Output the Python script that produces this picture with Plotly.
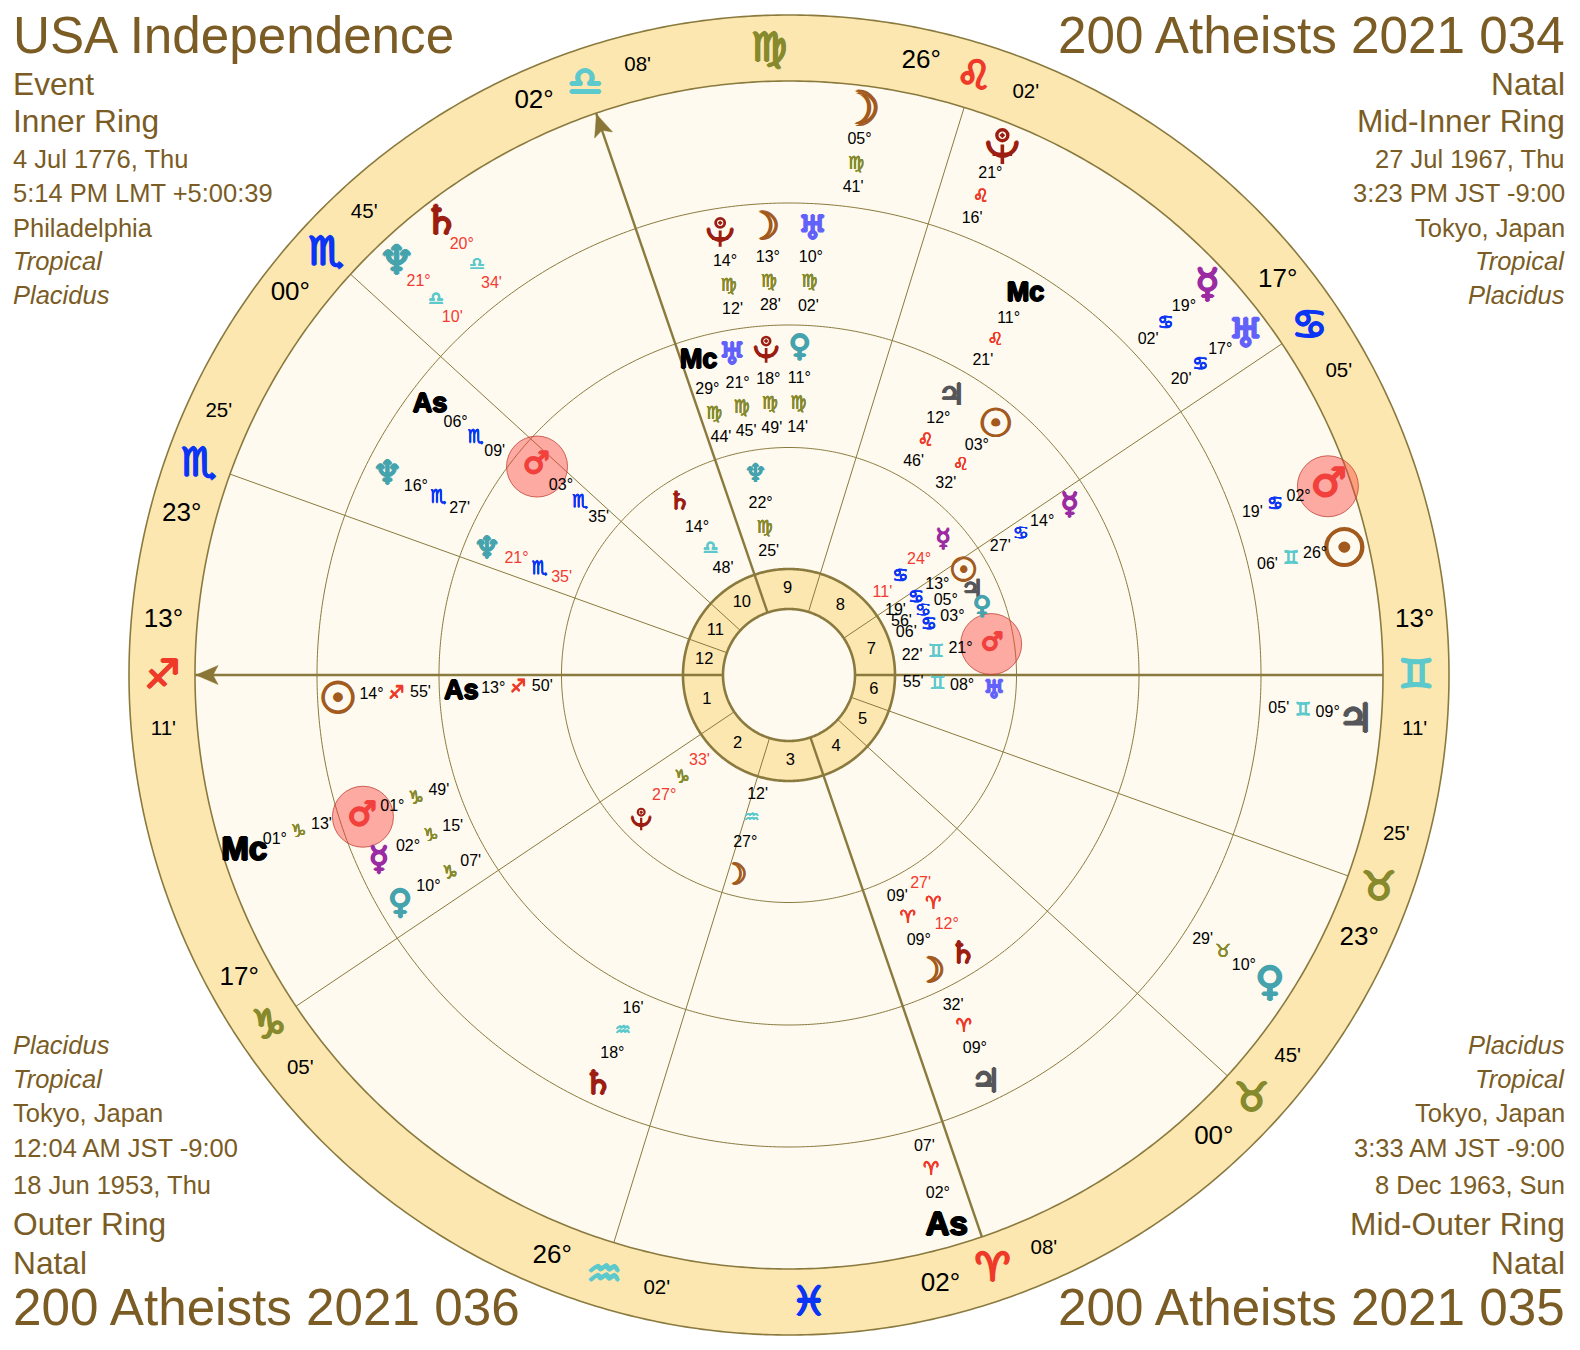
import math
import plotly.graph_objects as go

# ---------- chart data ----------
SIGNS = ["♈", "♉", "♊", "♋", "♌", "♍", "♎", "♏", "♐", "♑", "♒", "♓"]

cusp_signs = ["♐", "♑", "♒", "♈", "♉", "♉", "♊", "♋", "♌", "♎", "♏", "♏"]
cusp_degrees = [13, 17, 26, 2, 0, 23, 13, 17, 26, 2, 0, 23]
cusp_minutes = [11, 5, 2, 8, 45, 25, 11, 5, 2, 8, 45, 25]
intercepted_signs = ["♍", "♓"]
house_numbers = list(range(1, 13))

inner_bodies = ["♆", "♄", "♇", "☽", "♂", "♅", "☉", "♃", "♀", "☿"]
inner_signs = ["♍", "♎", "♑", "♒", "♊", "♊", "♋", "♋", "♋", "♋"]
inner_degrees = [22, 14, 27, 27, 21, 8, 13, 5, 3, 24]
inner_minutes = [25, 48, 33, 12, 22, 55, 19, 56, 6, 11]
inner_retro = [0, 0, 1, 0, 0, 0, 0, 0, 0, 1]
inner_label_angles = [99.4, 122, 224, 255.4, 8.7, -3.6, 31.2, 25.4, 19.6, 41.4]

midinner_bodies = ["Mc", "♅", "♇", "♀", "♃", "☉", "☿", "♂", "♆", "As", "♄", "☽"]
midinner_signs = ["♍", "♍", "♍", "♍", "♌", "♌", "♋", "♏", "♏", "♐", "♈", "♈"]
midinner_degrees = [29, 21, 18, 11, 12, 3, 14, 3, 21, 13, 12, 9]
midinner_minutes = [44, 45, 49, 14, 46, 32, 27, 35, 35, 50, 27, 9]
midinner_retro = [0, 0, 0, 0, 0, 0, 0, 0, 1, 0, 1, 0]
midinner_label_angles = [106, 100, 94, 88, 59.7, 50.6, 31.2, 140.4, 157, 182.7, -57.8, -64]

midouter_bodies = ["♇", "☽", "♅", "Mc", "♃", "♄", "☉", "♂", "☿", "♀", "♆", "As"]
midouter_signs = ["♍", "♍", "♍", "♌", "♈", "♒", "♐", "♑", "♑", "♑", "♏", "♏"]
midouter_degrees = [14, 13, 10, 11, 9, 18, 14, 1, 2, 10, 16, 6]
midouter_minutes = [12, 28, 2, 21, 32, 16, 55, 49, 15, 7, 27, 9]
midouter_retro = [0] * 12
midouter_label_angles = [98.8, 92.9, 87, 58.3, -63.6, 245, 182.8, 198.4, 204.3, 210.4, 153.2, 142.9]

outer_bodies = ["☽", "♇", "☿", "♅", "♂", "☉", "♃", "♀", "As", "Mc", "♄", "♆"]
outer_signs = ["♍", "♌", "♋", "♋", "♋", "♊", "♊", "♉", "♈", "♑", "♎", "♎"]
outer_degrees = [5, 21, 19, 17, 2, 26, 9, 10, 2, 1, 20, 21]
outer_minutes = [41, 16, 2, 20, 19, 6, 5, 29, 7, 13, 34, 10]
outer_retro = [0, 0, 0, 0, 0, 0, 0, 0, 0, 0, 1, 1]
outer_label_angles = [82.5, 68.1, 43, 37, 19.3, 13, -4, -32.6, -74, 197.8, 127.3, 133.3]

top_left_text = ["USA Independence", "Event", "Inner Ring", "4 Jul 1776, Thu",
                 "5:14 PM LMT +5:00:39", "Philadelphia", "<i>Tropical</i>", "<i>Placidus</i>"]
top_right_text = ["200 Atheists 2021 034", "Natal", "Mid-Inner Ring", "27 Jul 1967, Thu",
                  "3:23 PM JST -9:00", "Tokyo, Japan", "<i>Tropical</i>", "<i>Placidus</i>"]
bottom_left_text = ["<i>Placidus</i>", "<i>Tropical</i>", "Tokyo, Japan", "12:04 AM JST -9:00",
                    "18 Jun 1953, Thu", "Outer Ring", "Natal", "200 Atheists 2021 036"]
bottom_right_text = ["<i>Placidus</i>", "<i>Tropical</i>", "Tokyo, Japan", "3:33 AM JST -9:00",
                     "8 Dec 1963, Sun", "Mid-Outer Ring", "Natal", "200 Atheists 2021 035"]

# ---------- styling and geometry ----------
W, H = 1580, 1350
CX, CY, RMAX = 789, 675, 670
R_HOLE, R_HUB = 66, 106
RINGS = [227.5, 350, 472, 594]
R_OUT = 660
BROWN = "#7a5c24"
LINE = "#8a7a3e"
CREAM = "#fefaef"
BAND = "#fce7b0"
TEXT_FONT = "Liberation Sans"
GLYPH_FONT = "DejaVu Sans"
SIGN_COLOR = {"♈": "#ef3a2a", "♌": "#ef3a2a", "♐": "#ef3a2a",
              "♉": "#868a2c", "♍": "#868a2c", "♑": "#868a2c",
              "♊": "#5cc9cd", "♎": "#5cc9cd", "♒": "#5cc9cd",
              "♋": "#0a35f5", "♏": "#0a35f5", "♓": "#0a35f5"}
BODY_COLOR = {"☉": "#a25a1e", "☽": "#a25a1e", "☿": "#9b2ba3", "♀": "#45a3ad",
              "♂": "#f2403c", "♃": "#55565a", "♄": "#9c1e12", "♅": "#6262fb",
              "♆": "#45a3ad", "♇": "#9c1e12", "As": "#000000", "Mc": "#000000"}
# glyph size factor and pixel nudge (right, down) at the largest ring size
BODY_SCALE = {"☉": 1.3, "☽": 1.15}
BODY_NUDGE = {"☉": (-2, 7), "☽": (-4, 5), "☿": (0, 2), "♀": (-1, 2), "♂": (0, 0), "♃": (-4, 7),
              "♄": (-1, 4), "♅": (0, 6), "♆": (0, 5), "As": (0, 2), "Mc": (0, 2)}


def lon(sign, deg, minute):
    return SIGNS.index(sign) * 30 + deg + minute / 60


ASC = lon(cusp_signs[0], cusp_degrees[0], cusp_minutes[0])


def screen_angle(longitude):
    return (180 + longitude - ASC) % 360


def nudged(r, theta, dx, dy):
    x = r * math.cos(math.radians(theta)) + dx
    y = r * math.sin(math.radians(theta)) - dy
    return math.hypot(x, y), math.degrees(math.atan2(y, x))


def heavy(color, w):
    return f"{w}px 0 {color}, -{w}px 0 {color}, 0 {w}px {color}, 0 -{w}px {color}"


cusp_angles = [screen_angle(lon(s, d, m)) for s, d, m in zip(cusp_signs, cusp_degrees, cusp_minutes)]

fig = go.Figure()


def band(base, thickness, color):
    fig.add_trace(go.Barpolar(r=[thickness], base=[base], theta=[0], width=[360],
                              marker=dict(color=color, line=dict(width=0)), hoverinfo="skip"))


def circle(radius, width):
    thetas = [i * 0.5 for i in range(721)]
    fig.add_trace(go.Scatterpolar(r=[radius] * 721, theta=thetas, mode="lines",
                                  line=dict(color=LINE, width=width), hoverinfo="skip"))


def texts(r, theta, text, size, color, family, weight=0):
    font = dict(size=size, color=color, family=family)
    if weight:
        colors = color if isinstance(color, list) else [color] * len(text)
        font["shadow"] = [heavy(c, weight) for c in colors]
    fig.add_trace(go.Scatterpolar(r=r, theta=theta, text=text, mode="text", textposition="middle center",
                                  textfont=font, cliponaxis=False, hoverinfo="skip"))


band(0, R_HOLE, CREAM)
band(R_HOLE, R_HUB - R_HOLE, BAND)
band(R_HUB, RINGS[-1] - R_HUB, CREAM)
band(RINGS[-1], R_OUT - RINGS[-1], BAND)

# house cusps
for i, ang in enumerate(cusp_angles):
    fig.add_trace(go.Scatterpolar(r=[R_HOLE, RINGS[-1]], theta=[ang, ang], mode="lines",
                                  line=dict(color=LINE, width=2.4 if i % 3 == 0 else 1), hoverinfo="skip"))

# circles
for radius, width in [(R_HOLE, 2.6), (R_HUB, 2.6), (RINGS[0], 1), (RINGS[1], 1),
                      (RINGS[2], 1), (RINGS[3], 1.6), (R_OUT, 1.6)]:
    circle(radius, width)

# arrowheads on Ascendant and Midheaven
for idx in (0, 9):
    ang = cusp_angles[idx]
    tip = RINGS[-1] - 1
    fig.add_trace(go.Scatterpolar(
        r=[tip, tip - 22, tip - 17, tip - 22, tip],
        theta=[ang, ang + 0.95, ang, ang - 0.95, ang],
        mode="lines", fill="toself", fillcolor="#8a7636",
        line=dict(color="#8a7636", width=0.5), hoverinfo="skip"))

# zodiac band
big_signs, big_angles = [], []
deg_text, deg_angles, min_text, min_angles = [], [], [], []
for s, d, m, ang in zip(cusp_signs, cusp_degrees, cusp_minutes, cusp_angles):
    big_signs.append(s)
    big_angles.append(ang)
    step = 5 if ang < 180 else -5
    deg_text.append(f"{d:02d}°")
    deg_angles.append(ang + step)
    min_text.append(f"{m:02d}'")
    min_angles.append(ang - step)
for s in intercepted_signs:
    big_signs.append(s)
    big_angles.append(screen_angle(lon(s, 15, 0)))

big_pos = [nudged(627, a, 0, 3) for a in big_angles]
texts([p[0] for p in big_pos], [p[1] for p in big_pos], big_signs, 40,
      [SIGN_COLOR[s] for s in big_signs], GLYPH_FONT, weight=1.1)
texts([628] * 12, deg_angles, deg_text, 26, "#000000", TEXT_FONT)
texts([628] * 12, min_angles, min_text, 20.5, "#000000", TEXT_FONT)

# house numbers
house_angles = []
for i in range(12):
    a0 = cusp_angles[i]
    a1 = cusp_angles[(i + 1) % 12]
    if a1 < a0:
        a1 += 360
    house_angles.append((a0 + a1) / 2)
texts([86] * 12, house_angles, [str(n) for n in house_numbers], 16.5, "#000000", TEXT_FONT)


def pluto_mark(r, theta, k):
    """Orb and cross of the plotted Pluto form; its cup is a text glyph."""
    color = BODY_COLOR["♇"]
    orb = nudged(r, theta, 0, -9 * k)
    cross = nudged(r, theta, 0, 10 * k)
    fig.add_trace(go.Scatterpolar(r=[orb[0]], theta=[orb[1]], mode="markers", hoverinfo="skip",
                                  marker=dict(symbol="circle-open-dot", size=11 * k, color=color,
                                              line=dict(color=color, width=3.4 * k))))
    fig.add_trace(go.Scatterpolar(r=[cross[0]], theta=[cross[1]], mode="markers", hoverinfo="skip",
                                  marker=dict(symbol="cross-thin", size=14 * k, color=color,
                                              line=dict(color=color, width=3.6 * k))))


def planet_ring(outer_r, bodies, signs, degrees, minutes, retro, angles, glyph_size, angle_size):
    mars = [a for b, a in zip(bodies, angles) if b == "♂"]
    fig.add_trace(go.Scatterpolar(r=[outer_r - 23] * len(mars), theta=mars, mode="markers",
                                  marker=dict(size=61, color="rgba(250,60,55,0.42)",
                                              line=dict(color="rgba(190,60,50,0.75)", width=1)),
                                  hoverinfo="skip"))
    n = len(bodies)
    k = glyph_size / 40
    rs, ths, glyphs, sizes, fams, cols = [], [], [], [], [], []
    for b, a in zip(bodies, angles):
        dx, dy = BODY_NUDGE.get(b, (0, 0))
        if b == "♇":
            pluto_mark(outer_r - 22, a, k)
            pr, pt = nudged(outer_r - 22, a, 0, -2 * k)
            rs.append(pr); ths.append(pt); glyphs.append("◡"); sizes.append(glyph_size)
            fams.append(GLYPH_FONT); cols.append(BODY_COLOR[b])
            continue
        pr, pt = nudged(outer_r - 22, a, dx * k, dy * k)
        rs.append(pr); ths.append(pt); glyphs.append(f"<b>{b}</b>" if b in ("As", "Mc") else b)
        sizes.append(angle_size if b in ("As", "Mc") else glyph_size * BODY_SCALE.get(b, 1))
        fams.append(TEXT_FONT if b in ("As", "Mc") else GLYPH_FONT)
        cols.append(BODY_COLOR[b])
    texts(rs, ths, glyphs, sizes, cols, fams, weight=0.9 * k + 0.25)
    colors = ["#f23a32" if x else "#000000" for x in retro]
    texts([outer_r - 54] * n, angles, [f"{d:02d}°" for d in degrees], 16, colors, TEXT_FONT)
    texts([outer_r - 79] * n, angles, signs, 18, [SIGN_COLOR[s] for s in signs], GLYPH_FONT, weight=0.25)
    texts([outer_r - 103] * n, angles, [f"{m:02d}'" for m in minutes], 16, colors, TEXT_FONT)


planet_ring(RINGS[0], inner_bodies, inner_signs, inner_degrees, inner_minutes, inner_retro,
            inner_label_angles, 25, 25)
planet_ring(RINGS[1], midinner_bodies, midinner_signs, midinner_degrees, midinner_minutes, midinner_retro,
            midinner_label_angles, 30, 27)
planet_ring(RINGS[2], midouter_bodies, midouter_signs, midouter_degrees, midouter_minutes, midouter_retro,
            midouter_label_angles, 33, 27)
planet_ring(RINGS[3], outer_bodies, outer_signs, outer_degrees, outer_minutes, outer_retro,
            outer_label_angles, 40, 33)

# corner captions
TOP_Y = [35, 83, 120, 158, 192, 226, 259, 293]
BOTTOM_Y = [1037, 1071, 1105, 1139, 1176, 1215, 1253, 1298]
TOP_SIZE = [51.2, 31.7, 31.7, 25.5, 25.5, 25.5, 25.5, 25.5]
BOTTOM_SIZE = [25.5, 25.5, 25.5, 25.5, 25.5, 31.7, 31.7, 51.2]
SCALE = W / 1568
annotations = []
for lines, ys, sizes, x, anchor in [
    (top_left_text, TOP_Y, TOP_SIZE, 11, "left"),
    (top_right_text, TOP_Y, TOP_SIZE, 1567, "right"),
    (bottom_left_text, BOTTOM_Y, BOTTOM_SIZE, 11, "left"),
    (bottom_right_text, BOTTOM_Y, BOTTOM_SIZE, 1567, "right"),
]:
    for line, y, size in zip(lines, ys, sizes):
        annotations.append(dict(text=line, x=x / W, y=1 - y * SCALE / H, xref="paper", yref="paper",
                                xanchor=anchor, yanchor="middle", showarrow=False, align=anchor,
                                font=dict(family=TEXT_FONT, size=size, color=BROWN)))

fig.update_layout(
    width=W, height=H, margin=dict(l=0, r=0, t=0, b=0), paper_bgcolor="#ffffff",
    showlegend=False, annotations=annotations,
    polar=dict(
        domain=dict(x=[(CX - RMAX) / W, (CX + RMAX) / W], y=[1 - (CY + RMAX) / H, 1 - (CY - RMAX) / H]),
        bgcolor="rgba(0,0,0,0)", barmode="overlay",
        radialaxis=dict(visible=False, range=[0, RMAX]),
        angularaxis=dict(visible=False, direction="counterclockwise", rotation=0),
    ),
)

fig.write_html("out.html", config={"displayModeBar": False},
               post_script="document.body.style.margin='0';")
